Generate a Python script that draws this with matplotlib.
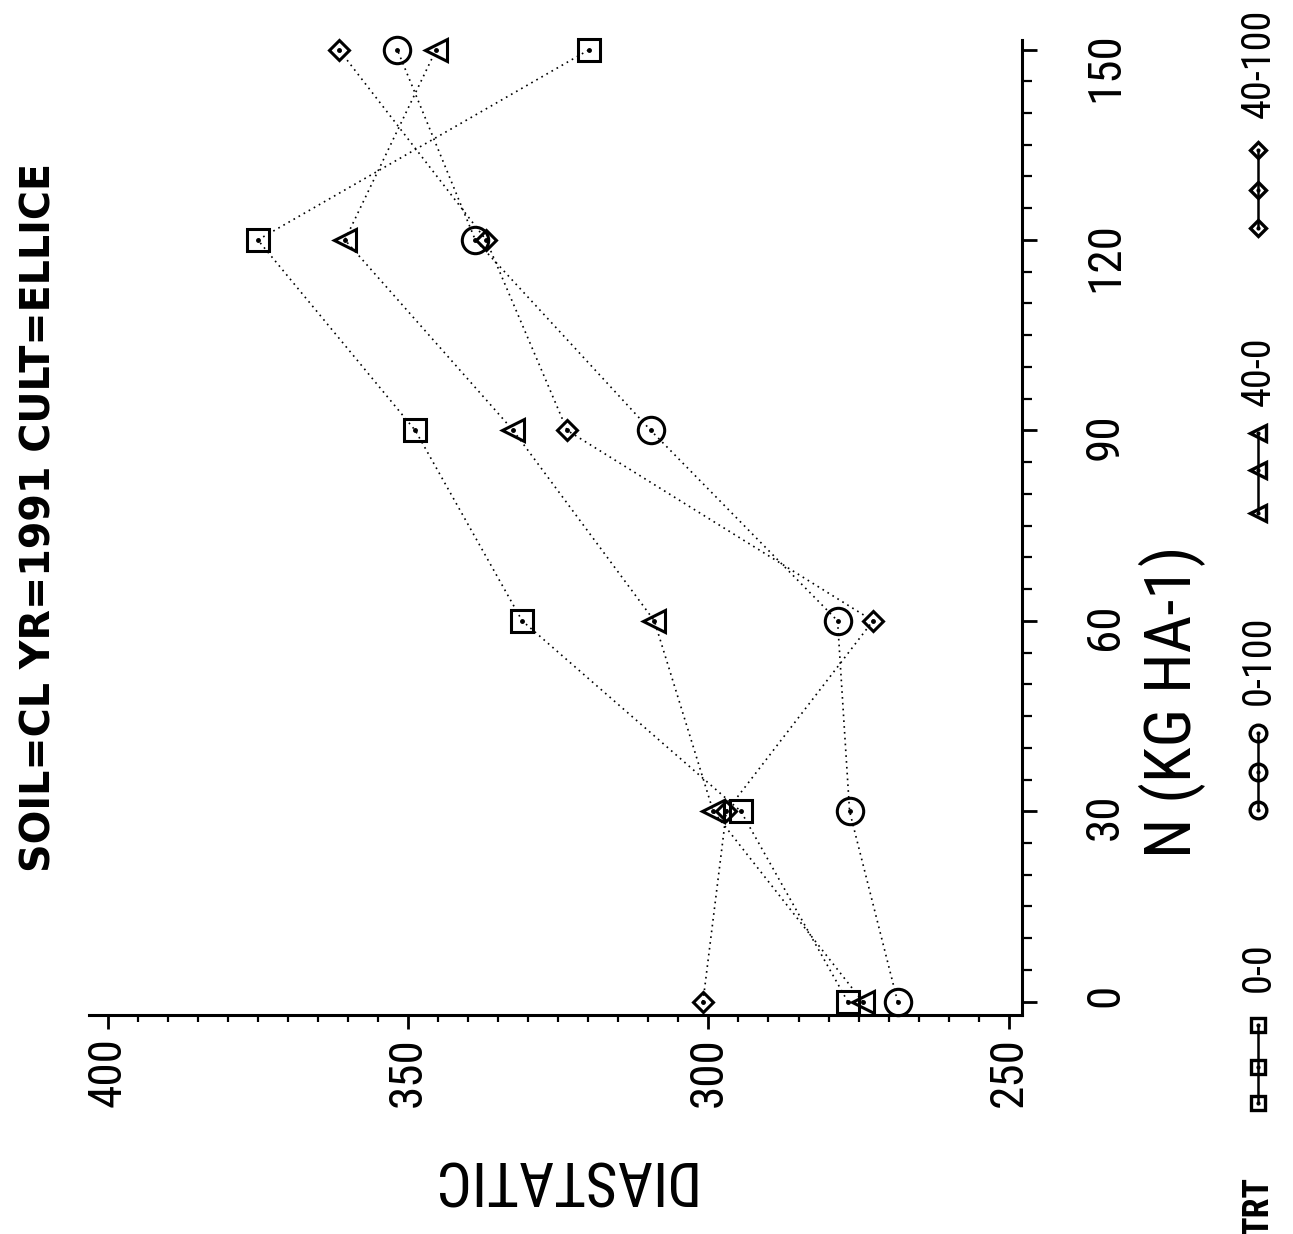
import matplotlib
matplotlib.use("Agg")
import matplotlib.pyplot as plt
import matplotlib.font_manager as fm
from matplotlib.lines import Line2D
from matplotlib.ticker import MultipleLocator

# ---------------- data ----------------
n_rate = [0, 30, 60, 90, 120, 150]
trt_labels = ["0-0", "0-100", "40-0", "40-100"]
diast_00 = [276.8, 294.6, 331.0, 348.8, 375.0, 319.8]
diast_0100 = [268.5, 276.5, 278.5, 309.6, 338.8, 351.8]
diast_400 = [274.3, 299.2, 309.0, 332.5, 360.5, 345.3]
diast_40100 = [300.9, 297.0, 272.6, 323.5, 337.0, 361.5]
x_ticks = [400, 350, 300, 250]
y_ticks = [0, 30, 60, 90, 120, 150]
title_text = "SOIL=CL YR=1991 CULT=ELLICE"
xlabel_text = "DIASTATIC"
ylabel_text = "N (KG HA-1)"
legend_title = "TRT"

series = [diast_00, diast_0100, diast_400, diast_40100]
markers = ["s", "o", "<", "D"]
msizes = [16, 19, 16, 10.5]
leg_msizes = [10.5, 12, 12, 8.5]

# ---------------- fonts ----------------
names = {f.name for f in fm.fontManager.ttflist}
NARROW = None
for cand in ["Liberation Sans Narrow", "Roboto Condensed", "Open Sans Condensed",
             "DejaVu Sans Condensed", "Noto Sans Condensed"]:
    if cand in names:
        NARROW = {"family": cand}
        break
scale = 1.0
if NARROW is None:
    cond = [f for f in fm.fontManager.ttflist
            if str(f.stretch) in ("condensed", "semi-condensed", "extra-condensed")]
    if cond:
        NARROW = {"family": cond[0].name, "fontstretch": "condensed"}
    else:
        NARROW = {"family": "DejaVu Sans"}
        scale = 0.8


def nf(size, bold=False):
    d = dict(NARROW)
    d["fontsize"] = size * scale
    if bold:
        d["fontweight"] = "bold"
    return d


W, H = 1293, 1234
fig = plt.figure(figsize=(W / 100, H / 100), dpi=100)
fig.patch.set_facecolor("white")


def px(x, y):
    return (x / W, 1 - y / H)


# axes placement (rotated layout: diastatic horizontal, N vertical)
left, right, top, bottom = 89, 1022, 40, 1015
ax = fig.add_axes([left / W, 1 - bottom / H, (right - left) / W, (bottom - top) / H])
ax.set_xlim(403.1, 247.8)
ax.set_ylim(-2.1, 151.5)

for s in ["top", "left"]:
    ax.spines[s].set_visible(False)
for s in ["bottom", "right"]:
    ax.spines[s].set_linewidth(2.2)

ax.yaxis.tick_right()
ax.set_xticks(x_ticks)
ax.set_yticks(y_ticks)
ax.xaxis.set_minor_locator(MultipleLocator(5))
ax.yaxis.set_minor_locator(MultipleLocator(5))
ax.tick_params(axis="x", which="major", direction="out", length=10, width=2, pad=6,
               labelrotation=90)
ax.tick_params(axis="x", which="minor", direction="out", length=5, width=1.6)
ax.tick_params(axis="y", which="major", direction="out", length=11, width=2, pad=33,
               labelrotation=90)
ax.tick_params(axis="y", which="minor", direction="out", length=7, width=1.6)
for lab in ax.get_xticklabels():
    lab.update(nf(34))
for lab in ax.get_yticklabels():
    lab.update(nf(34))

# series
for vals, mk, ms in zip(series, markers, msizes):
    ax.plot(vals, n_rate, color="black", lw=1.2, linestyle=(0, (1, 2.5)),
            marker=mk, ms=ms, mfc="none", mec="black", mew=2.2, clip_on=False)
    ax.plot(vals, n_rate, linestyle="none", marker=".", ms=5, color="black",
            clip_on=False)

# texts
fig.text(*px(40, 517), title_text, rotation=90, ha="center", va="center",
         fontsize=28.5, fontweight="bold", family="DejaVu Sans")
fig.text(*px(1172, 702), ylabel_text, rotation=90, ha="center", va="center", **nf(47))
fig.text(*px(560, 1178), xlabel_text, rotation=180, ha="center", va="center", **nf(44))

# legend (rotated)
lx = 1258
fig.text(*px(lx, 1207), legend_title, rotation=90, ha="center", va="center",
         **nf(26, bold=True))
leg_marker_y = [[1103, 1067, 1025], [810, 772, 733], [513, 470, 433], [228, 190, 150]]
leg_label_y = [967, 660, 371, 63]
for lab, mk, ms, ys, ly in zip(trt_labels, markers, leg_msizes, leg_marker_y, leg_label_y):
    xs_f = [lx / W] * 3
    ys_f = [1 - y / H for y in ys]
    fig.add_artist(Line2D(xs_f, ys_f, transform=fig.transFigure, color="black", lw=1.8,
                          marker=mk, ms=ms, mfc="none", mec="black", mew=2.4))
    fig.add_artist(Line2D(xs_f, ys_f, transform=fig.transFigure, linestyle="none",
                          marker=".", ms=4, color="black"))
    fig.text(*px(lx, ly), lab, rotation=90, ha="center", va="center", **nf(29))

fig.savefig("out.png", dpi=100, facecolor="white")
